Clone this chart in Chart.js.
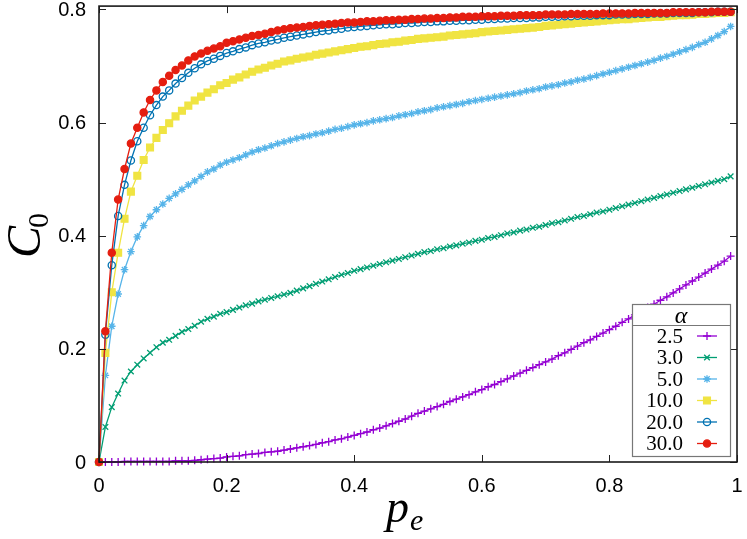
<!DOCTYPE html>
<html><head><meta charset="utf-8">
<script src="https://cdn.jsdelivr.net/npm/chart.js@4.4.1/dist/chart.umd.min.js"></script>
<style>html,body{margin:0;padding:0;background:#fff;}canvas{display:block;}</style>
</head><body>
<canvas id="c" width="747" height="539"></canvas>
<script>
const pe = [0,0.01,0.02,0.03,0.04,0.05,0.06,0.07,0.08,0.09,
0.10,0.11,0.12,0.13,0.14,0.15,0.16,0.17,0.18,0.19,
0.20,0.21,0.22,0.23,0.24,0.25,0.26,0.27,0.28,0.29,
0.30,0.31,0.32,0.33,0.34,0.35,0.36,0.37,0.38,0.39,
0.40,0.41,0.42,0.43,0.44,0.45,0.46,0.47,0.48,0.49,
0.50,0.51,0.52,0.53,0.54,0.55,0.56,0.57,0.58,0.59,
0.60,0.61,0.62,0.63,0.64,0.65,0.66,0.67,0.68,0.69,
0.70,0.71,0.72,0.73,0.74,0.75,0.76,0.77,0.78,0.79,
0.80,0.81,0.82,0.83,0.84,0.85,0.86,0.87,0.88,0.89,
0.90,0.91,0.92,0.93,0.94,0.95,0.96,0.97,0.98,0.99];

const c25 = [0,0,0,0,0.001,0.001,0.001,0.001,0.001,0.001,
0.001,0.001,0.002,0.002,0.002,0.003,0.004,0.005,0.006,0.007,
0.009,0.010,0.011,0.013,0.014,0.015,0.017,0.018,0.019,0.021,
0.023,0.025,0.027,0.029,0.031,0.034,0.036,0.039,0.041,0.044,
0.047,0.050,0.053,0.057,0.060,0.064,0.068,0.072,0.076,0.081,
0.086,0.090,0.094,0.098,0.102,0.107,0.111,0.115,0.119,0.124,
0.128,0.133,0.137,0.142,0.147,0.152,0.157,0.162,0.167,0.172,
0.177,0.182,0.188,0.193,0.199,0.205,0.211,0.216,0.222,0.228,
0.234,0.240,0.247,0.253,0.260,0.266,0.273,0.279,0.286,0.292,
0.299,0.306,0.313,0.320,0.327,0.334,0.341,0.348,0.355,0.364];

const c30 = [0,0.062,0.097,0.121,0.144,0.160,0.172,0.183,0.193,0.203,
0.211,0.216,0.223,0.230,0.235,0.241,0.248,0.253,0.257,0.262,
0.265,0.269,0.273,0.277,0.280,0.284,0.287,0.290,0.293,0.296,
0.299,0.303,0.307,0.311,0.315,0.319,0.323,0.327,0.331,0.334,
0.338,0.341,0.344,0.347,0.350,0.353,0.356,0.359,0.362,0.365,
0.368,0.371,0.373,0.376,0.378,0.381,0.383,0.386,0.388,0.391,
0.393,0.396,0.398,0.401,0.404,0.406,0.409,0.411,0.414,0.416,
0.419,0.422,0.424,0.427,0.430,0.433,0.435,0.438,0.441,0.443,
0.446,0.449,0.452,0.455,0.458,0.461,0.464,0.467,0.470,0.473,
0.476,0.479,0.482,0.485,0.488,0.491,0.494,0.497,0.500,0.505];

const c50 = [0,0.153,0.240,0.297,0.340,0.372,0.398,0.418,0.434,0.446,
0.456,0.466,0.474,0.482,0.490,0.497,0.505,0.513,0.518,0.525,
0.530,0.534,0.538,0.543,0.548,0.552,0.555,0.559,0.563,0.566,
0.569,0.572,0.575,0.577,0.580,0.582,0.585,0.588,0.590,0.593,
0.596,0.598,0.600,0.603,0.605,0.607,0.609,0.612,0.614,0.616,
0.619,0.621,0.623,0.626,0.628,0.630,0.632,0.634,0.637,0.639,
0.641,0.643,0.645,0.647,0.649,0.651,0.653,0.656,0.658,0.660,
0.663,0.665,0.667,0.670,0.672,0.675,0.677,0.680,0.683,0.686,
0.689,0.692,0.695,0.698,0.701,0.704,0.707,0.710,0.714,0.717,
0.721,0.725,0.729,0.733,0.738,0.742,0.748,0.754,0.761,0.770];

const c100 = [0,0.193,0.300,0.370,0.430,0.478,0.506,0.534,0.556,0.573,
0.587,0.599,0.611,0.621,0.630,0.639,0.646,0.653,0.659,0.666,
0.670,0.676,0.680,0.685,0.690,0.694,0.697,0.701,0.704,0.708,
0.710,0.713,0.715,0.717,0.720,0.722,0.724,0.726,0.728,0.730,
0.732,0.734,0.735,0.737,0.739,0.740,0.742,0.743,0.745,0.746,
0.748,0.749,0.750,0.751,0.752,0.754,0.755,0.756,0.757,0.758,
0.760,0.761,0.762,0.763,0.764,0.765,0.766,0.767,0.768,0.769,
0.771,0.772,0.773,0.774,0.775,0.776,0.777,0.778,0.779,0.780,
0.781,0.782,0.783,0.783,0.784,0.785,0.786,0.787,0.787,0.788,
0.789,0.790,0.790,0.791,0.792,0.792,0.793,0.794,0.794,0.795];

const c200 = [0,0.225,0.348,0.435,0.490,0.533,0.567,0.591,0.613,0.631,
0.646,0.657,0.669,0.679,0.688,0.696,0.703,0.709,0.713,0.718,
0.723,0.726,0.730,0.733,0.737,0.740,0.742,0.745,0.747,0.750,
0.752,0.754,0.756,0.758,0.760,0.762,0.763,0.765,0.766,0.768,
0.769,0.770,0.771,0.772,0.773,0.774,0.774,0.775,0.776,0.776,
0.777,0.778,0.778,0.779,0.779,0.780,0.780,0.781,0.781,0.782,
0.782,0.783,0.783,0.784,0.784,0.785,0.785,0.785,0.786,0.786,
0.787,0.787,0.787,0.788,0.788,0.789,0.789,0.789,0.790,0.790,
0.790,0.791,0.791,0.791,0.792,0.792,0.792,0.793,0.793,0.793,
0.794,0.794,0.794,0.794,0.795,0.795,0.795,0.796,0.796,0.796];

const c300 = [0,0.231,0.370,0.464,0.518,0.563,0.591,0.618,0.640,0.657,
0.672,0.683,0.693,0.701,0.710,0.717,0.722,0.727,0.731,0.735,
0.741,0.744,0.747,0.750,0.753,0.755,0.757,0.760,0.763,0.765,
0.767,0.768,0.769,0.771,0.772,0.773,0.774,0.775,0.776,0.777,
0.777,0.778,0.779,0.779,0.780,0.781,0.781,0.782,0.782,0.783,
0.783,0.784,0.784,0.785,0.785,0.786,0.786,0.787,0.787,0.787,
0.788,0.788,0.788,0.789,0.789,0.789,0.790,0.790,0.790,0.790,
0.791,0.791,0.791,0.791,0.792,0.792,0.792,0.792,0.792,0.793,
0.793,0.793,0.793,0.793,0.794,0.794,0.794,0.794,0.794,0.794,
0.795,0.795,0.795,0.795,0.795,0.795,0.796,0.796,0.796,0.796];

const alphaLabels = ['2.5','3.0','5.0','10.0','20.0','30.0'];
const xTicks = [0,0.2,0.4,0.6,0.8,1];
const yTicks = [0,0.2,0.4,0.6,0.8];
const xTickLabels = ['0','0.2','0.4','0.6','0.8','1'];
const yTickLabels = ['0','0.2','0.4','0.6','0.8'];

const seriesValues = [c25,c30,c50,c100,c200,c300];
const colors = ['#9400D3','#009E73','#56B4E9','#F0E442','#0072B2','#E51E10'];
const styles = [
  {pointStyle:'cross', r:4, fill:false},
  {pointStyle:'crossRot', r:4, fill:false},
  {pointStyle:'star', r:3.8, fill:false},
  {pointStyle:'rect', r:4.8, fill:true},
  {pointStyle:'circle', r:3.6, fill:false},
  {pointStyle:'circle', r:3.6, fill:true}
];

const datasets = seriesValues.map((vals,i)=>({
  label: alphaLabels[i],
  data: pe.map((x,j)=>({x:x,y:vals[j]})),
  borderColor: colors[i],
  backgroundColor: colors[i],
  borderWidth: 1.3,
  pointStyle: styles[i].pointStyle,
  pointRadius: styles[i].r,
  pointBorderWidth: 1.3,
  pointBorderColor: colors[i],
  pointBackgroundColor: styles[i].fill ? colors[i] : 'rgba(0,0,0,0)',
  pointHoverRadius: styles[i].r,
  tension: 0,
  fill: false,
  clip: false,
  order: 6 - i
}));

function drawMarker(ctx, style, x, y, r, color, fill){
  ctx.save();
  ctx.strokeStyle = color; ctx.fillStyle = color; ctx.lineWidth = 1.3;
  ctx.beginPath();
  if (style==='cross'){ ctx.moveTo(x-r,y);ctx.lineTo(x+r,y);ctx.moveTo(x,y-r);ctx.lineTo(x,y+r);ctx.stroke(); }
  else if (style==='crossRot'){ const d=r*0.7071; ctx.moveTo(x-d,y-d);ctx.lineTo(x+d,y+d);ctx.moveTo(x-d,y+d);ctx.lineTo(x+d,y-d);ctx.stroke(); }
  else if (style==='star'){ const d=r*0.7071; ctx.moveTo(x-r,y);ctx.lineTo(x+r,y);ctx.moveTo(x,y-r);ctx.lineTo(x,y+r);ctx.moveTo(x-d,y-d);ctx.lineTo(x+d,y+d);ctx.moveTo(x-d,y+d);ctx.lineTo(x+d,y-d);ctx.stroke(); }
  else if (style==='rect'){ const s=r*0.7071; ctx.rect(x-s,y-s,2*s,2*s); ctx.fill(); ctx.stroke(); }
  else { ctx.arc(x,y,r,0,Math.PI*2); if(fill) ctx.fill(); ctx.stroke(); }
  ctx.restore();
}

const framePlugin = {
  id:'frame',
  afterDatasetsDraw(chart){
    const {ctx, chartArea:a, scales} = chart;
    const xs = scales.x, ys = scales.y;
    ctx.save();
    ctx.strokeStyle = '#222'; ctx.lineWidth = 1;
    const tl = 7;
    xTicks.forEach(v=>{
      const px = Math.round(xs.getPixelForValue(v))+0.5;
      ctx.beginPath(); ctx.moveTo(px,a.bottom); ctx.lineTo(px,a.bottom-tl);
      ctx.moveTo(px,a.top); ctx.lineTo(px,a.top+tl); ctx.stroke();
    });
    yTicks.forEach(v=>{
      const py = Math.round(ys.getPixelForValue(v))+0.5;
      ctx.beginPath(); ctx.moveTo(a.left,py); ctx.lineTo(a.left+tl,py);
      ctx.moveTo(a.right,py); ctx.lineTo(a.right-tl,py); ctx.stroke();
    });
    ctx.lineWidth = 1.6; ctx.strokeStyle = '#1a1a1a';
    ctx.strokeRect(a.left, a.top, a.right-a.left, a.bottom-a.top);
    // tick labels
    ctx.fillStyle = '#000';
    ctx.font = '20px "Liberation Sans", Arial, sans-serif';
    ctx.textAlign = 'center'; ctx.textBaseline = 'middle';
    xTicks.forEach((v,i)=>{
      ctx.fillText(xTickLabels[i], xs.getPixelForValue(v), a.bottom + 24);
    });
    ctx.textAlign = 'right';
    yTicks.forEach((v,i)=>{
      ctx.fillText(yTickLabels[i], a.left - 13, ys.getPixelForValue(v) + 1);
    });
    ctx.restore();
  },
  afterDraw(chart){
    const {ctx, chartArea:a} = chart;
    ctx.save();
    // legend box
    const lx = 632, ly = 304, lw = 98, lh = 152;
    ctx.fillStyle = '#fff'; ctx.fillRect(lx,ly,lw,lh);
    ctx.strokeStyle = '#777'; ctx.lineWidth = 1.2;
    ctx.strokeRect(lx+0.5,ly+0.5,lw,lh);
    ctx.beginPath(); ctx.moveTo(lx,ly+21.5); ctx.lineTo(lx+lw,ly+21.5); ctx.stroke();
    ctx.fillStyle = '#000';
    ctx.font = 'italic 24px "Liberation Serif"';
    ctx.textAlign = 'center'; ctx.textBaseline = 'alphabetic';
    ctx.fillText('α', lx+lw/2, ly+19);
    ctx.font = '21px "Liberation Serif"';
    ctx.textAlign = 'right'; ctx.textBaseline = 'middle';
    alphaLabels.forEach((lab,i)=>{
      const y = ly + 32 + i*21.5;
      ctx.fillStyle = '#000';
      ctx.fillText(lab, 683, y+1);
      ctx.strokeStyle = colors[i]; ctx.lineWidth = 1.3;
      ctx.beginPath(); ctx.moveTo(697,y); ctx.lineTo(717,y); ctx.stroke();
      drawMarker(ctx, styles[i].pointStyle, 707, y, styles[i].r, colors[i], styles[i].fill);
    });
    // axis titles
    ctx.fillStyle = '#000';
    ctx.textAlign = 'left'; ctx.textBaseline = 'alphabetic';
    const cx = (a.left+a.right)/2;
    ctx.font = 'italic 46px "Liberation Serif"';
    const pw = ctx.measureText('p').width;
    ctx.fillText('p', cx - 32, 522);
    ctx.font = 'italic 30px "Liberation Serif"';
    ctx.fillText('e', cx - 32 + pw + 1, 530);
    // y title rotated
    ctx.translate(40, (a.top+a.bottom)/2 + 24);
    ctx.rotate(-Math.PI/2);
    ctx.font = 'italic 48px "Liberation Serif"';
    const cw = ctx.measureText('C').width;
    ctx.fillText('C', 0, 0);
    ctx.font = '30px "Liberation Serif"';
    ctx.fillText('0', cw - 2, 8);
    ctx.restore();
  }
};

new Chart(document.getElementById('c'), {
  type:'line',
  data:{datasets},
  options:{
    responsive:false, animation:false, devicePixelRatio:1,
    layout:{padding:{top:6,right:10,left:0,bottom:0}},
    plugins:{legend:{display:false}, tooltip:{enabled:false}},
    scales:{
      x:{type:'linear', min:0, max:1,
        afterFit(s){ s.height = 77; },
        afterBuildTicks(s){ s.ticks = xTicks.map(v=>({value:v})); },
        grid:{display:false, drawTicks:false},
        border:{display:false},
        ticks:{display:false}
      },
      y:{type:'linear', min:0, max:0.806,
        afterFit(s){ s.width = 99; },
        afterBuildTicks(s){ s.ticks = yTicks.map(v=>({value:v})); },
        grid:{display:false, drawTicks:false},
        border:{display:false},
        ticks:{display:false}
      }
    }
  },
  plugins:[framePlugin]
});
</script>
</body></html>
